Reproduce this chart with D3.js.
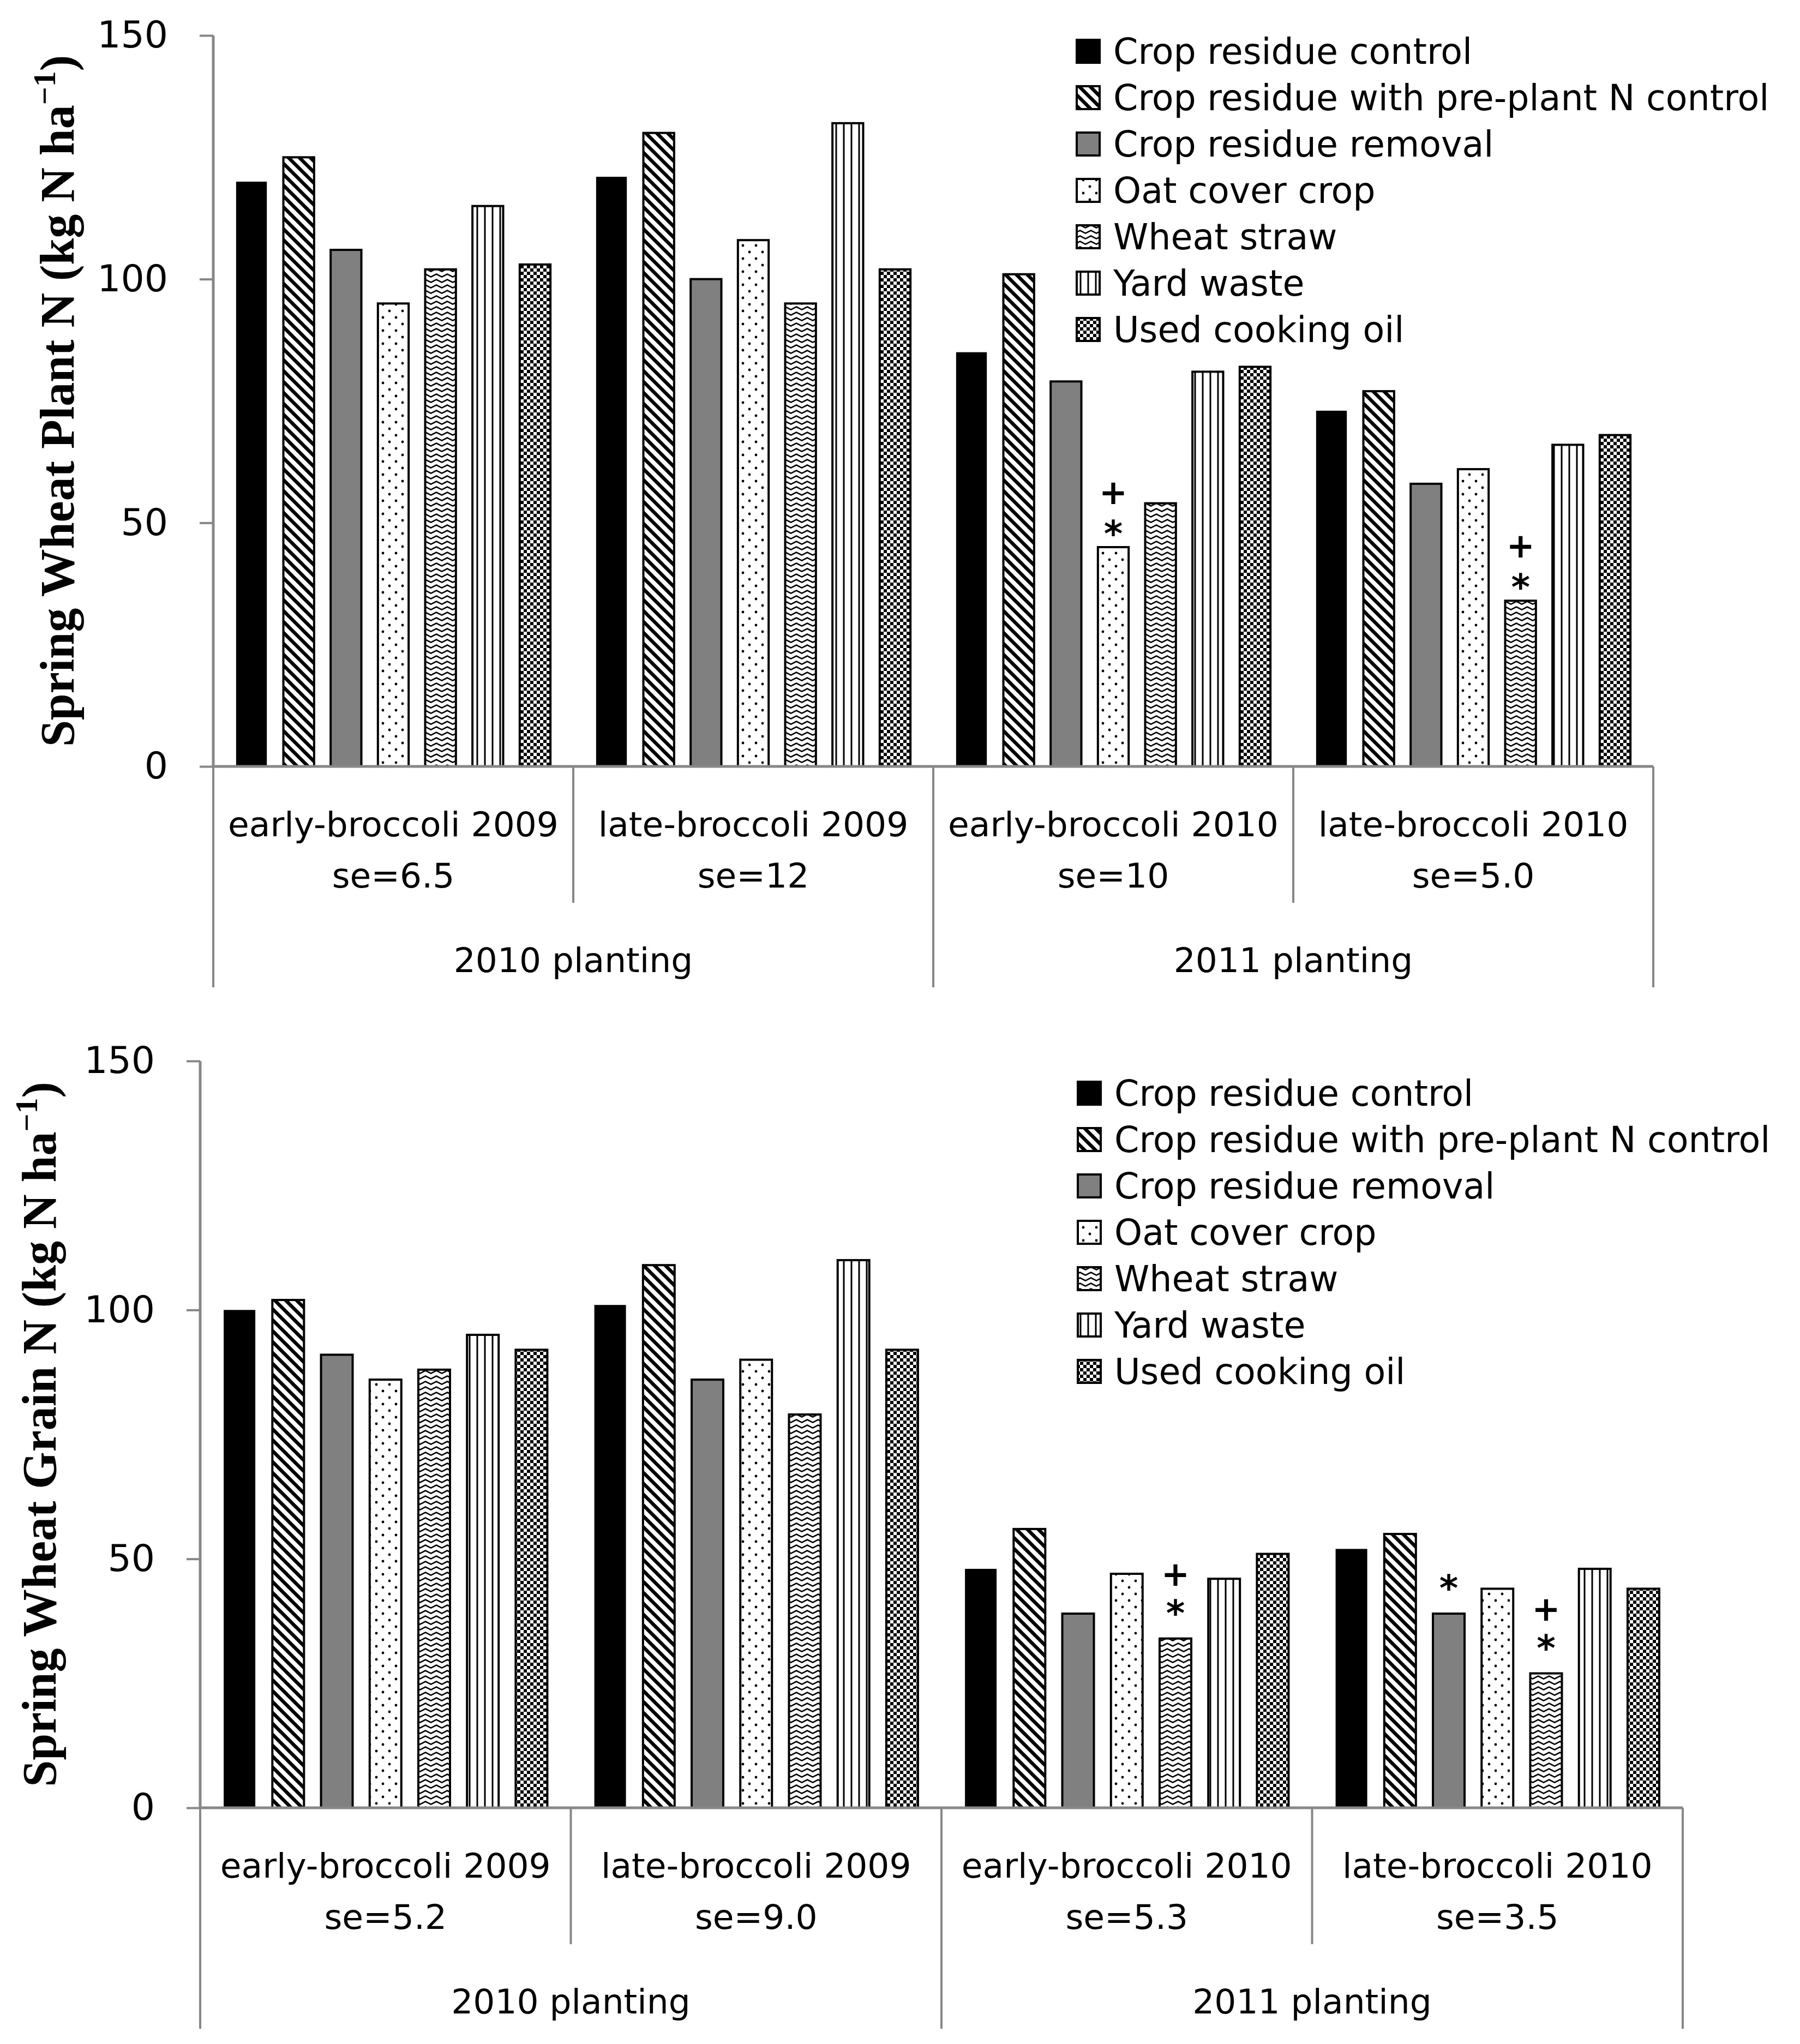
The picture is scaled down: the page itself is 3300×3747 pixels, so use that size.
<!DOCTYPE html>
<html lang="en">
<head>
  <meta charset="UTF-8">
  <title>Spring Wheat N</title>
  <script src="https://d3js.org/d3.v7.min.js"></script>
  <style>
    body { margin: 0; background: #fff; }
    text { font-family: "DejaVu Sans", sans-serif; fill: #000; }
    .ytitle { font-family: "Liberation Serif", "Times New Roman", serif; font-weight: bold; }
  </style>
</head>
<body>
  <svg id="chart" width="3300" height="3747"></svg>

  <script>
    const treatments = ["Crop residue control", "Crop residue with pre-plant N control",
      "Crop residue removal", "Oat cover crop", "Wheat straw", "Yard waste", "Used cooking oil"];
    const seasons = ["early-broccoli 2009", "late-broccoli 2009", "early-broccoli 2010", "late-broccoli 2010"];
    const plantings = ["2010 planting", "2011 planting"];
    const plantSe = ["se=6.5", "se=12", "se=10", "se=5.0"];
    const grainSe = ["se=5.2", "se=9.0", "se=5.3", "se=3.5"];
    const yTicks = [0, 50, 100, 150];

    // one row per season, one column per treatment
    const plantN = [
      [120, 125, 106, 95, 102, 115, 103],
      [121, 130, 100, 108, 95, 132, 102],
      [85, 101, 79, 45, 54, 81, 82],
      [73, 77, 58, 61, 34, 66, 68]
    ];
    const grainN = [
      [100, 102, 91, 86, 88, 95, 92],
      [101, 109, 86, 90, 79, 110, 92],
      [48, 56, 39, 47, 34, 46, 51],
      [52, 55, 39, 44, 27, 48, 44]
    ];
    // [season index, treatment index, symbols]
    const plantMarks = [[2, 3, "+*"], [3, 4, "+*"]];
    const grainMarks = [[2, 4, "+*"], [3, 2, "*"], [3, 4, "+*"]];

    const svg = d3.select("#chart");
    const axisGrey = "#878787";

    // fill patterns
    const defs = svg.append("defs");
    function pattern(id, w, h) {
      const p = defs.append("pattern").attr("id", id)
        .attr("patternUnits", "userSpaceOnUse").attr("width", w).attr("height", h);
      p.append("rect").attr("width", w).attr("height", h).attr("fill", "#fff");
      return p;
    }
    pattern("hatch", 20, 20).append("path")
      .attr("d", "M-10,-10L30,30M-10,10L10,30M10,-10L30,10")
      .attr("stroke", "#000").attr("stroke-width", 6.5);
    const dots = pattern("dots", 24, 24);
    dots.append("circle").attr("cx", 6).attr("cy", 6).attr("r", 2.4).attr("fill", "#000");
    dots.append("circle").attr("cx", 18).attr("cy", 18).attr("r", 2.4).attr("fill", "#000");
    pattern("wave", 20, 10).append("path")
      .attr("d", "M-10,7.5L0,2.5L10,7.5L20,2.5L30,7.5")
      .attr("fill", "none").attr("stroke", "#000").attr("stroke-width", 2.5);
    pattern("vert", 14, 14).append("rect")
      .attr("x", 5.5).attr("width", 3).attr("height", 14).attr("fill", "#000");
    const chk = pattern("check", 12, 12);
    chk.append("rect").attr("width", 6).attr("height", 6).attr("fill", "#000");
    chk.append("rect").attr("x", 6).attr("y", 6).attr("width", 6).attr("height", 6).attr("fill", "#000");

    const fills = ["#000", "url(#hatch)", "#808080", "url(#dots)", "url(#wave)", "url(#vert)", "url(#check)"];

    const charts = [
      { values: plantN, se: plantSe, marks: plantMarks, title: "Spring Wheat Plant N (kg N ha",
        x0: 391, x1: 3031, yTop: 65, yBase: 1405, titleX: 135,
        legendX: 1974, legendY: 94, starGap: 40, plusGap: 101 },
      { values: grainN, se: grainSe, marks: grainMarks, title: "Spring Wheat Grain N (kg N ha",
        x0: 367, x1: 3085, yTop: 1945, yBase: 3314, titleX: 102,
        legendX: 1976, legendY: 2004, starGap: 62, plusGap: 119 }
    ];

    charts.forEach(drawChart);

    function drawChart(cfg) {
      const g = svg.append("g");
      const x = d3.scaleBand().domain(seasons).range([cfg.x0, cfg.x1]);
      const xi = d3.scaleBand().domain(d3.range(treatments.length))
        .range([0, x.bandwidth()]).paddingInner(0.35).paddingOuter(0.483);
      const y = d3.scaleLinear().domain([0, 150]).range([cfg.yBase, cfg.yTop]);

      // bars
      seasons.forEach((s, gi) => {
        g.append("g").selectAll("rect")
          .data(cfg.values[gi])
          .join("rect")
          .attr("x", (d, i) => x(s) + xi(i))
          .attr("y", d => y(d))
          .attr("width", xi.bandwidth())
          .attr("height", d => y(0) - y(d))
          .attr("fill", (d, i) => fills[i])
          .attr("stroke", (d, i) => i === 0 ? "none" : "#000")
          .attr("stroke-width", 4);
      });

      // significance marks
      cfg.marks.forEach(([gi, ti, sym]) => {
        const cx = x(seasons[gi]) + xi(ti) + xi.bandwidth() / 2;
        const top = y(cfg.values[gi][ti]);
        if (sym.includes("*")) {
          g.append("text").attr("x", cx).attr("y", top - cfg.starGap + 38)
            .attr("text-anchor", "middle").attr("font-size", 66)
            .attr("font-weight", "bold").text("*");
        }
        if (sym.includes("+")) {
          g.append("text").attr("x", cx).attr("y", top - cfg.plusGap + 22)
            .attr("text-anchor", "middle").attr("font-size", 62)
            .attr("font-weight", "bold").text("+");
        }
      });

      // y axis
      const ya = g.append("g")
        .attr("transform", `translate(${cfg.x0},0)`)
        .call(d3.axisLeft(y).tickValues(yTicks).tickSize(25).tickPadding(58))
        .attr("font-size", 68).attr("font-family", "DejaVu Sans");
      ya.select(".domain").remove();
      ya.selectAll(".tick line").attr("stroke", axisGrey).attr("stroke-width", 4);
      ya.selectAll(".tick text").attr("fill", "#000");

      // category axis lines
      const bw = x.bandwidth();
      g.append("line").attr("x1", cfg.x0).attr("x2", cfg.x1)
        .attr("y1", cfg.yBase).attr("y2", cfg.yBase)
        .attr("stroke", axisGrey).attr("stroke-width", 5);
      g.append("line").attr("x1", cfg.x0).attr("x2", cfg.x0)
        .attr("y1", cfg.yTop).attr("y2", cfg.yBase)
        .attr("stroke", axisGrey).attr("stroke-width", 5);
      d3.range(seasons.length + 1).forEach(i => {
        const xx = cfg.x0 + i * bw;
        g.append("line").attr("x1", xx).attr("x2", xx)
          .attr("y1", cfg.yBase).attr("y2", cfg.yBase + (i % 2 === 0 ? 405 : 250))
          .attr("stroke", axisGrey).attr("stroke-width", 4);
      });

      // category labels
      g.selectAll(".season").data(seasons).join("text")
        .attr("x", d => x(d) + bw / 2).attr("y", cfg.yBase + 128)
        .attr("text-anchor", "middle").attr("font-size", 63).text(d => d);
      g.selectAll(".se").data(cfg.se).join("text")
        .attr("x", (d, i) => x(seasons[i]) + bw / 2).attr("y", cfg.yBase + 222)
        .attr("text-anchor", "middle").attr("font-size", 63).text(d => d);
      g.selectAll(".planting").data(plantings).join("text")
        .attr("x", (d, i) => cfg.x0 + (2 * i + 1) * bw).attr("y", cfg.yBase + 377)
        .attr("text-anchor", "middle").attr("font-size", 63).text(d => d);

      // y title
      const t = g.append("text").attr("class", "ytitle")
        .attr("transform", `translate(${cfg.titleX},${(cfg.yTop + cfg.yBase) / 2}) rotate(-90)`)
        .attr("text-anchor", "middle").attr("font-size", 88);
      t.append("tspan").text(cfg.title);
      t.append("tspan").attr("font-size", 58).attr("dy", -34).text("\u22121");
      t.append("tspan").attr("dy", 34).text(")");

      // legend
      const lg = g.append("g");
      treatments.forEach((name, i) => {
        const cy = cfg.legendY + i * 85;
        lg.append("rect").attr("x", cfg.legendX).attr("y", cy - 21)
          .attr("width", 42).attr("height", 42)
          .attr("fill", fills[i]).attr("stroke", "#000").attr("stroke-width", 4);
        lg.append("text").attr("x", cfg.legendX + 67).attr("y", cy + 23)
          .attr("font-size", 65).text(name);
      });
    }
  </script>
</body>
</html>
